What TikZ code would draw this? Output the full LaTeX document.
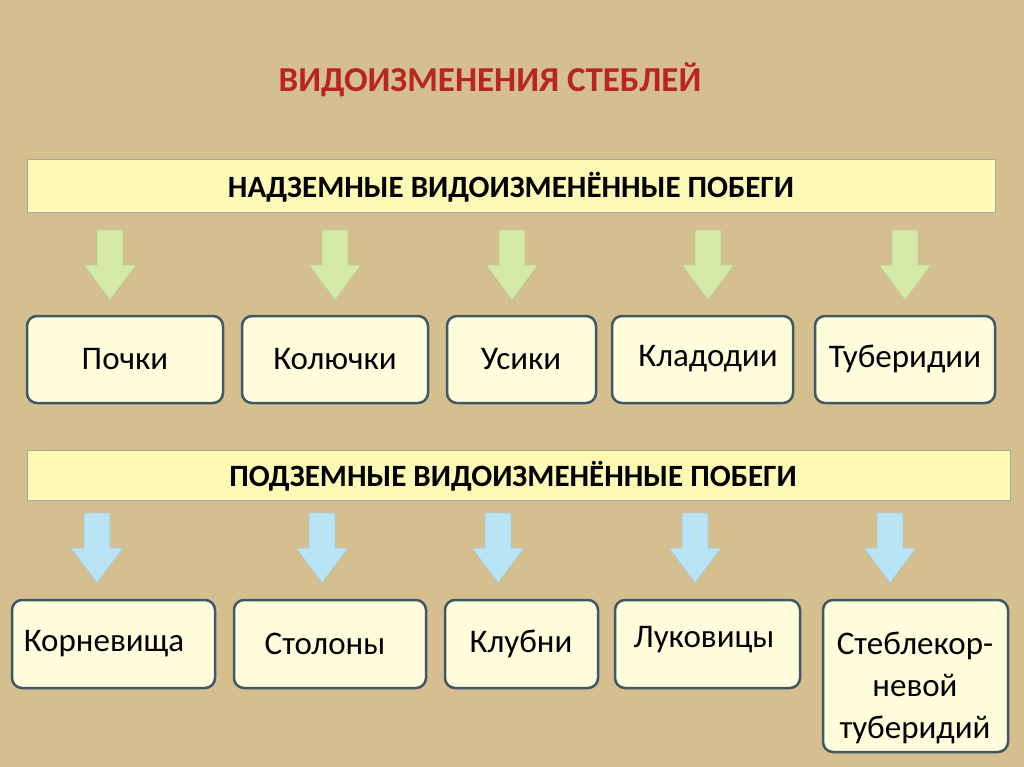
\documentclass[tikz,border=0pt]{standalone}
\usepackage{fontspec}
\setmainfont{Carlito}
\definecolor{bgtan}{HTML}{D6BF8E}
\definecolor{titlered}{HTML}{B8261E}
\definecolor{bannerfill}{HTML}{FCFAB4}
\definecolor{boxfill}{HTML}{FFFDDC}
\definecolor{boxline}{HTML}{3E5866}
\definecolor{greenarrow}{HTML}{D3EBA6}
\definecolor{bluearrow}{HTML}{B9E4F5}
\tikzset{every picture/.style={line width=0.75pt}}
\tikzset{
  banner/.style={draw=gray!70, fill=bannerfill, line width=1pt},
  itembox/.style={draw=boxline, fill=boxfill, rounded corners=10pt, line width=2.5pt},
  itemtext/.style={font=\fontsize{33}{42}\selectfont, align=center, inner sep=0.75pt},
  headtext/.style={font=\bfseries\fontsize{31}{36}\selectfont, inner sep=0.75pt},
}
\newcommand{\blockarrow}[4]{% x, top y, fill, draw
  \draw[fill=#3, draw=#4, line width=0.6pt] (#1-13,#2) -- (#1+13,#2) -- (#1+13,#2+35) -- (#1+26,#2+35)
    -- (#1,#2+70) -- (#1-26,#2+35) -- (#1-13,#2+35) -- cycle ;}
\begin{document}
\begin{tikzpicture}[x=1pt,y=1pt,yscale=-1,xscale=1]
        \fill[bgtan] (0,0) rectangle (1024,767);
        \useasboundingbox (0,0) rectangle (1024,767);

        % Title
        \node[font=\bfseries\fontsize{35}{40}\selectfont, text=titlered] (title) at (490,80) {ВИДОИЗМЕНЕНИЯ СТЕБЛЕЙ};

        % Banners
        \draw[banner] (27,160) rectangle (995,213);
        \node[headtext] (above) at (511,187) {НАДЗЕМНЫЕ ВИДОИЗМЕНЁННЫЕ ПОБЕГИ};
        \draw[banner] (27,450) rectangle (1010,500);
        \node[headtext] (below) at (513,476) {ПОДЗЕМНЫЕ ВИДОИЗМЕНЁННЫЕ ПОБЕГИ};

        % Arrows
        \foreach \x in {110,335,512,708,905} {\blockarrow{\x}{230}{greenarrow}{greenarrow!70!gray}}
        \foreach \x in {97,322,498,695,890} {\blockarrow{\x}{513}{bluearrow}{bluearrow!70!gray}}

        % Upper boxes
        \draw[itembox] (27,316) rectangle (223,403);
        \node[itemtext] (pochki) at (125,359) {Почки};
        \draw[itembox] (242,316) rectangle (428,403);
        \node[itemtext] (kolyuchki) at (335,359) {Колючки};
        \draw[itembox] (447,316) rectangle (596,403);
        \node[itemtext] (usiki) at (521,359) {Усики};
        \draw[itembox] (612,316) rectangle (793,403);
        \node[itemtext] (kladodii) at (708,359) {Кладодии};
        \draw[itembox] (815,316) rectangle (995,403);
        \node[itemtext] (tuberidii) at (905,359) {Туберидии};

        % Lower boxes
        \draw[itembox] (12,600) rectangle (215,688);
        \node[itemtext] (kornevishcha) at (104,644) {Корневища};
        \draw[itembox] (234,600) rectangle (426,688);
        \node[itemtext] (stolony) at (325,644) {Столоны};
        \draw[itembox] (445,600) rectangle (598,688);
        \node[itemtext] (klubni) at (521,644) {Клубни};
        \draw[itembox] (615,600) rectangle (800,688);
        \node[itemtext] (lukovitsy) at (704,640) {Луковицы};
        \draw[itembox] (823,600) rectangle (1008,752);
        \node[itemtext] (steblekor) at (915,688) {Стеблекор-\\невой\\туберидий};
\end{tikzpicture}
\end{document}
